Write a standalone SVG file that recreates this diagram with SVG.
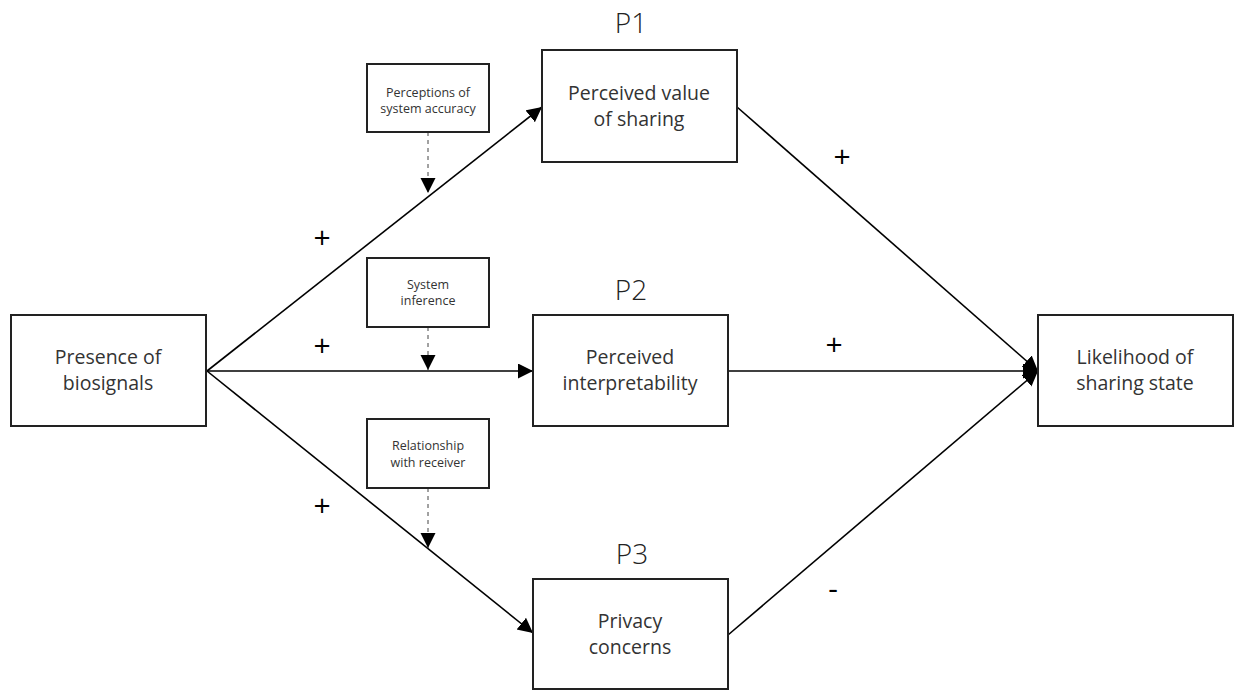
<svg xmlns="http://www.w3.org/2000/svg" width="1235" height="690" viewBox="0 0 1235 690">
<style>
.box{fill:#fff;stroke:#222;stroke-width:2}
.t{font-family:"Open Sans","Liberation Sans",sans-serif;fill:#333;text-anchor:middle}
.m{font-size:19.5px}
.s{font-size:12.5px}
.p{font-size:28px;font-weight:300;fill:#222}
.sign{font-family:"Open Sans","Liberation Sans",sans-serif;font-size:30px;fill:#000;text-anchor:middle}
.ln{stroke:#000;stroke-width:1.6;fill:none}
.ds{stroke:#444;stroke-width:1;stroke-dasharray:4,4;fill:none}
</style>
<defs>
<marker id="ah" markerUnits="userSpaceOnUse" markerWidth="16" markerHeight="16" viewBox="0 0 16 16" refX="15" refY="7.5" orient="auto">
<path d="M0,0 L15,7.5 L0,15 z" fill="#000"/>
</marker>
</defs>
<rect width="1235" height="690" fill="#fff"/>
<g id="connectors">
<line class="ln" x1="207" y1="371" x2="542" y2="107" marker-end="url(#ah)"/>
<line class="ln" x1="207" y1="371" x2="533" y2="371" marker-end="url(#ah)"/>
<line class="ln" x1="207" y1="371" x2="533" y2="633" marker-end="url(#ah)"/>
<line class="ln" x1="737" y1="107" x2="1038" y2="371" marker-end="url(#ah)"/>
<line class="ln" x1="728" y1="371" x2="1038" y2="371" marker-end="url(#ah)"/>
<line class="ln" x1="728" y1="635" x2="1038" y2="371" marker-end="url(#ah)"/>
<line class="ds" x1="428" y1="132" x2="428" y2="193" marker-end="url(#ah)"/>
<line class="ds" x1="428" y1="327" x2="428" y2="370" marker-end="url(#ah)"/>
<line class="ds" x1="428" y1="488" x2="428" y2="548" marker-end="url(#ah)"/>
<text class="sign" x="322" y="248">+</text>
<text class="sign" x="322" y="356">+</text>
<text class="sign" x="322" y="516">+</text>
<text class="sign" x="842" y="167">+</text>
<text class="sign" x="834" y="355">+</text>
<text class="sign" x="833" y="599">-</text>
</g>
<g id="presence">
<rect class="box" x="11" y="315" width="195" height="111"/>
<text class="t m" x="108" y="364">Presence of</text>
<text class="t m" x="108" y="390">biosignals</text>
</g>
<g id="p1">
<text class="t p" x="631" y="33">P1</text>
<rect class="box" x="542" y="50" width="195" height="112"/>
<text class="t m" x="639" y="100">Perceived value</text>
<text class="t m" x="639" y="126">of sharing</text>
</g>
<g id="p2">
<text class="t p" x="631" y="300">P2</text>
<rect class="box" x="533" y="315" width="195" height="111"/>
<text class="t m" x="630" y="364">Perceived</text>
<text class="t m" x="630" y="390">interpretability</text>
</g>
<g id="p3">
<text class="t p" x="632" y="564">P3</text>
<rect class="box" x="533" y="579" width="195" height="110"/>
<text class="t m" x="630" y="628">Privacy</text>
<text class="t m" x="630" y="654">concerns</text>
</g>
<g id="likelihood">
<rect class="box" x="1038" y="315" width="195" height="111"/>
<text class="t m" x="1135" y="364">Likelihood of</text>
<text class="t m" x="1135" y="390">sharing state</text>
</g>
<g id="accuracy">
<rect class="box" x="367" y="64" width="122" height="68"/>
<text class="t s" x="428" y="97">Perceptions of</text>
<text class="t s" x="428" y="113">system accuracy</text>
</g>
<g id="inference">
<rect class="box" x="367" y="258" width="122" height="69"/>
<text class="t s" x="428" y="289">System</text>
<text class="t s" x="428" y="305">inference</text>
</g>
<g id="relationship">
<rect class="box" x="367" y="419" width="122" height="69"/>
<text class="t s" x="428" y="450">Relationship</text>
<text class="t s" x="428" y="467">with receiver</text>
</g>
</svg>
